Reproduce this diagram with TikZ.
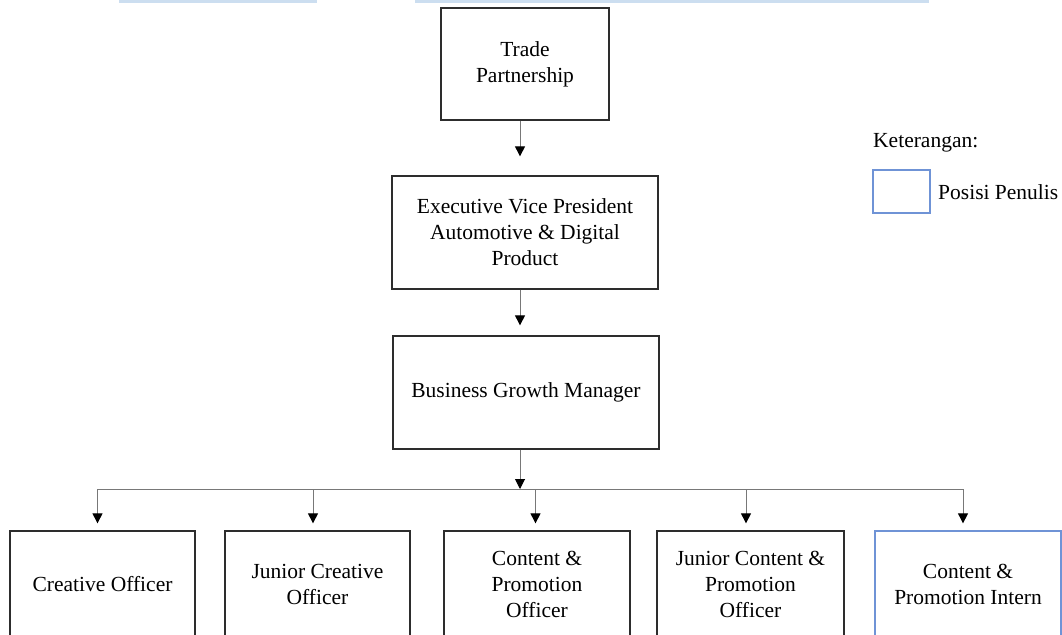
\documentclass[tikz,border=0pt]{standalone}
\usepackage{fontspec}
\setmainfont{Liberation Serif}
\usetikzlibrary{arrows.meta,calc}
\definecolor{legblue}{RGB}{111,147,214}
\definecolor{barblue}{RGB}{204,222,240}
\definecolor{boxline}{RGB}{45,45,45}
\definecolor{connline}{RGB}{120,120,120}
\tikzset{
  orgbox/.style={draw=boxline, line width=1.3pt, align=center, inner sep=0pt,
    font=\fontsize{21.5}{26}\selectfont},
  bluebox/.style={orgbox, draw=legblue},
  conn/.style={draw=connline, line width=1pt, -{Triangle[width=10pt,length=10pt,color=black]}},
  busline/.style={draw=connline, line width=1pt},
  legtext/.style={anchor=west, inner sep=0pt, font=\fontsize{21.5}{26}\selectfont}
}
\begin{document}
\begin{tikzpicture}[x=1pt,y=-1pt]
\useasboundingbox (0,0) rectangle (1062,634);
% top light blue bars
\fill[barblue] (119,0) rectangle (317,3);
\fill[barblue] (415,0) rectangle (929,3);
% main chain
\node[orgbox, minimum width=168pt, minimum height=112pt] (trade) at (525,64) {Trade\\Partnership};
\node[orgbox, minimum width=266pt, minimum height=113pt] (evp) at (525,232.5) {Executive Vice President\\Automotive \& Digital\\Product};
\node[orgbox, minimum width=266pt, minimum height=113pt] (bgm) at (526,392.5) {Business Growth Manager};
% bottom row
\node[orgbox, minimum width=185pt, minimum height=106pt] (c1) at (102.5,584) {Creative Officer};
\node[orgbox, minimum width=185pt, minimum height=106pt] (c2) at (317.5,584) {Junior Creative\\Officer};
\node[orgbox, minimum width=186pt, minimum height=106pt] (c3) at (537,584) {Content \&\\Promotion\\Officer};
\node[orgbox, minimum width=187pt, minimum height=106pt] (c4) at (750.5,584) {Junior Content \&\\Promotion\\Officer};
\node[bluebox, minimum width=186pt, minimum height=106pt] (c5) at (968,584) {Content \&\\Promotion Intern};
% connectors
\coordinate (a1) at (520,0);
\draw[conn, shorten >=19pt] (trade.south -| a1) -- (evp.north -| a1);
\draw[conn, shorten >=10pt] (evp.south -| a1) -- (bgm.north -| a1);
\coordinate (bus) at (520,489);
\draw[conn] (bgm.south -| bus) -- (bus);
\coordinate (d1) at (97.5,489);
\coordinate (d2) at (313,489);
\coordinate (d3) at (535.5,489);
\coordinate (d4) at (746,489);
\coordinate (d5) at (963,489);
\draw[busline] (d1) -- (d5);
\draw[conn, shorten >=7pt] (d1) -- (d1 |- c1.north);
\draw[conn, shorten >=7pt] (d2) -- (d2 |- c2.north);
\draw[conn, shorten >=7pt] (d3) -- (d3 |- c3.north);
\draw[conn, shorten >=7pt] (d4) -- (d4 |- c4.north);
\draw[conn, shorten >=7pt] (d5) -- (d5 |- c5.north);
% legend
\node[legtext] (ket) at (873,143) {Keterangan:};
\node[draw=legblue, line width=1.2pt, minimum width=57pt, minimum height=43pt, inner sep=0pt] (legbox) at (901.5,191.5) {};
\node[legtext] (pos) at (938,192) {Posisi Penulis};
\end{tikzpicture}
\end{document}
